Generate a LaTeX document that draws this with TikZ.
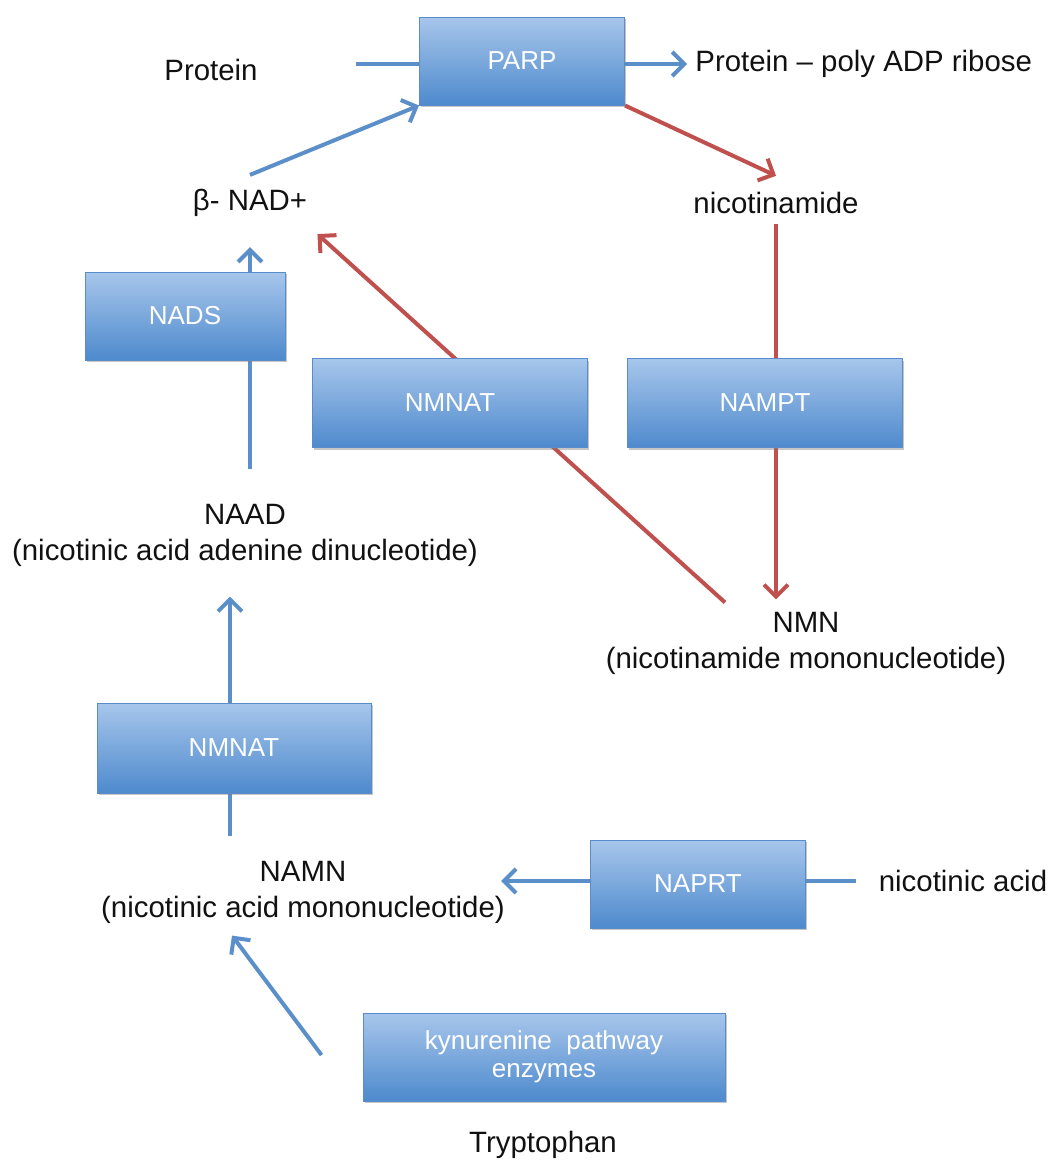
\documentclass[tikz,border=0pt]{standalone}
\usepackage{fontspec}
\setmainfont{Liberation Sans}
\usepackage{xcolor}
\definecolor{ablue}{HTML}{5B8FC9}
\definecolor{ared}{HTML}{C0504D}
\definecolor{boxtop}{HTML}{A7C6EB}
\definecolor{boxbot}{HTML}{4E8ACD}
\definecolor{boxedge}{HTML}{5A8CCB}
\definecolor{ink}{HTML}{111111}
\usetikzlibrary{positioning,arrows.meta,calc,backgrounds,shadows}
\tikzset{
  enz/.style={draw=boxedge,line width=0.5pt,top color=boxtop,bottom color=boxbot,
    text=white,align=center,font=\fontsize{13}{14}\selectfont,inner sep=2pt,
    drop shadow={shadow xshift=0.8pt,shadow yshift=-1.2pt,opacity=0.45}},
  lbl/.style={text=ink,align=center,font=\fontsize{14.7}{18}\selectfont,inner sep=1pt},
  bflow/.style={draw=ablue,line width=2pt,-{Straight Barb[length=6pt,width=12pt,line width=2pt]}},
  rflow/.style={draw=ared,line width=2pt,-{Straight Barb[length=6pt,width=12pt,line width=2pt]}},
  bline/.style={draw=ablue,line width=2pt},
}
\begin{document}
\begin{tikzpicture}[x=0.5pt,y=-0.5pt]
  \useasboundingbox (0,0) rectangle (1052,1162);
  % substances
  \node[lbl] (prot) at (211,70) {Protein};
  \node[lbl,anchor=west] (padp) at (693,64) {Protein -- poly ADP ribose};
  \node[lbl] (nad) at (250,203) {β- NAD+};
  \node[lbl] (nam) at (776,203) {nicotinamide};
  \node[lbl] (naad) at (245,535) {NAAD\\(nicotinic acid adenine dinucleotide)};
  \node[lbl] (nmn) at (806,643) {NMN\\(nicotinamide mononucleotide)};
  \node[lbl] (namn) at (303,892) {NAMN\\(nicotinic acid mononucleotide)};
  \node[lbl] (nacid) at (963,881) {nicotinic acid};
  \node[lbl] (trp) at (543,1145) {Tryptophan};
  % enzymes
  \node[enz,minimum width=102.5pt,minimum height=44pt] (parp) at (522,61) {PARP};
  \node[enz,minimum width=100pt,minimum height=44pt] (nads) at (185,316) {NADS};
  \node[enz,minimum width=137.5pt,minimum height=44.5pt] (nmnat) at (450,403) {NMNAT};
  \node[enz,minimum width=137.5pt,minimum height=44.5pt] (nampt) at (765,403) {NAMPT};
  \node[enz,minimum width=137pt,minimum height=45pt] (nmnatb) at (234,748) {NMNAT};
  \node[enz,minimum width=107.5pt,minimum height=44pt] (naprt) at (698,884) {NAPRT};
  \node[enz,minimum width=181pt,minimum height=44pt] (kyn) at (544,1057) {kynurenine~ pathway\\enzymes};
  \begin{pgfonlayer}{background}
    \draw[bline] ($(parp.west)+(-63,3)$) -- ($(parp.west)+(0,3)$);
    \draw[bflow] ($(parp.east)+(0,3)$) -- ($(padp.west |- parp.east)+(-6,3)$);
    \draw[bflow] ($(nad.north)+(0,-12)$) -- (parp.south west);
    \draw[rflow] (parp.south east) -- ($(nam.north)+(0,-14)$);
    \draw[rflow] ($(nam.south)+(0,8)$) -- ($(nam.south |- nmn.north)+(0,-10)$);
    \draw[rflow] ($(nmn.north)+(-81,-7)$) -- ($(nad.south east)+(8,15)$);
    \draw[bflow] ($(nad.south |- naad.north)+(0,-32)$) -- ($(nad.south)+(0,28)$);
    \draw[bflow] ($(namn.north -| nmnatb)+(-4,-22)$) -- ($(naad.south -| nmnatb)+(-4,28)$);
    \draw[bflow] ($(nacid.west)+(-20,0)$) -- ($(nacid.west -| namn.east)+(-6,0)$);
    \draw[bflow] ($(kyn.west)+(-41,-2)$) -- ($(namn.south)+(-71,10)$);
  \end{pgfonlayer}
\end{tikzpicture}
\end{document}
